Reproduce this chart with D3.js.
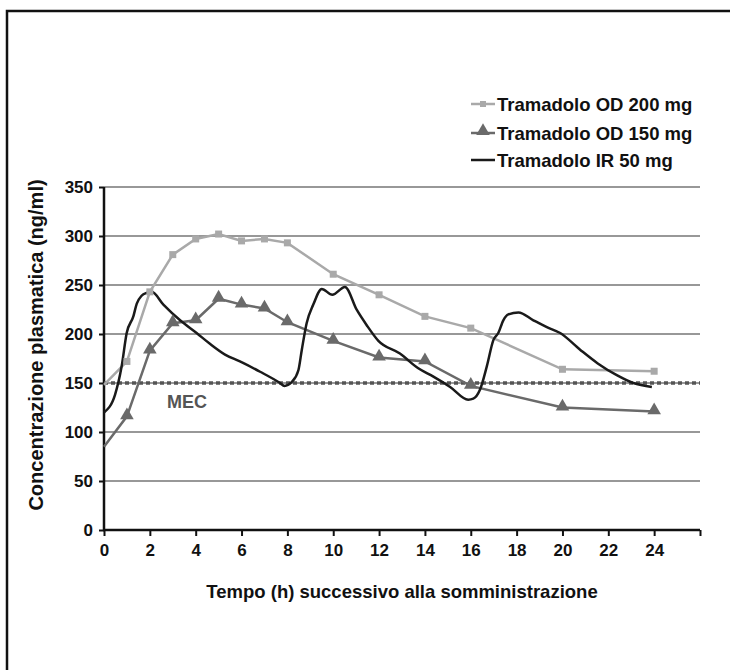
<!DOCTYPE html>
<html>
<head>
<meta charset="utf-8">
<script src="https://cdn.jsdelivr.net/npm/d3@7"></script>
<style>
  body { margin: 0; background: #fff; }
  svg text { font-family: "Liberation Sans", Arial, sans-serif; font-weight: bold; }
</style>
</head>
<body>
<svg width="730" height="670"></svg>
<script>
let svg = d3.select("svg");

// data
let hoursOD = [0, 1, 2, 3, 4, 5, 6, 7, 8, 10, 12, 14, 16, 20, 24];
let od200 = [148, 172, 243, 281, 297, 302, 295, 297, 293, 261, 240, 218, 206, 164, 162];
let od150 = [85, 116, 183, 211, 214, 236, 230, 226, 212, 193, 176, 172, 147, 125, 121];

let hoursIR = [0, 0.48, 0.77, 0.99, 1.28, 1.43, 1.64, 1.86, 2.08, 2.59, 3.32, 4.04, 4.62, 5.28, 5.93, 6.81,
  7.68, 7.87, 8.19, 8.48, 8.63, 8.84, 9.13, 9.5, 9.96, 10.51, 11.03, 11.46, 11.97, 12.91, 13.71,
  14.37, 15.1, 15.89, 16.11, 16.4, 16.7, 16.99, 17.2, 17.42, 17.64, 18.08, 18.73, 19.32, 19.9,
  20.77, 21.54, 22.37, 23.09, 23.9];
let ir50 = [120, 138, 167, 201, 218, 231, 239, 242, 243, 230, 214, 201, 190, 179, 172, 161.5,
  150, 147, 151, 163, 184, 211, 230, 246, 240, 248, 224.5, 209, 193, 180, 165,
  156.5, 146, 133, 134, 143, 167, 194, 201, 214, 220, 222, 214, 207, 201,
  184, 170, 158, 150, 146];

let mec = 150;
let xTicks = [0, 2, 4, 6, 8, 10, 12, 14, 16, 18, 20, 22, 24, 26];
let xLabels = ["0", "2", "4", "6", "8", "10", "12", "14", "16", "18", "20", "22", "24", ""];
let yTicks = [0, 50, 100, 150, 200, 250, 300, 350];
let seriesNames = ["Tramadolo OD 200 mg", "Tramadolo OD 150 mg", "Tramadolo IR 50 mg"];

let lightGray = "#a9a9a9";
let darkGray = "#6a6a6a";
let black = "#1a1a1a";

let x = d3.scaleLinear().domain([0, 26]).range([104, 700]);
let y = d3.scaleLinear().domain([0, 350]).range([530, 187]);

// frame (left + top)
svg.append("path")
  .attr("d", "M7,670 V11 H730")
  .attr("fill", "none")
  .attr("stroke", "#111")
  .attr("stroke-width", 2.5);

// gridlines
svg.append("g")
  .selectAll("line")
  .data(yTicks.filter(d => d > 0))
  .enter()
  .append("line")
  .attr("x1", x(0))
  .attr("x2", x(26))
  .attr("y1", d => y(d))
  .attr("y2", d => y(d))
  .attr("stroke", "#333")
  .attr("stroke-width", 1.2);

// axes
let yAxis = svg.append("g")
  .attr("transform", "translate(" + x(0) + ",0)")
  .call(d3.axisLeft(y).tickValues(yTicks).tickSize(5).tickPadding(6));
let xAxis = svg.append("g")
  .attr("transform", "translate(0," + y(0) + ")")
  .call(d3.axisBottom(x).tickValues(xTicks).tickSize(6).tickPadding(8)
    .tickFormat((d, i) => xLabels[i]));

[yAxis, xAxis].forEach(g => {
  g.select(".domain").attr("stroke", "#111").attr("stroke-width", 2.5);
  g.selectAll(".tick line").attr("stroke", "#111").attr("stroke-width", 2);
  g.selectAll(".tick text")
    .attr("fill", "#111")
    .style("font-family", "'Liberation Sans', Arial, sans-serif")
    .style("font-weight", "bold")
    .style("font-size", "17px");
});
yAxis.select(".domain").attr("d", "M0," + y(350) + "V" + (y(0) + 1));
xAxis.select(".domain").attr("d", "M" + (x(0) - 1) + ",0H" + x(26));

// MEC dotted line
svg.append("line")
  .attr("x1", x(0))
  .attr("x2", x(26))
  .attr("y1", y(mec))
  .attr("y2", y(mec))
  .attr("stroke", "#555")
  .attr("stroke-width", 3.5)
  .attr("stroke-dasharray", "4,3");

svg.append("text")
  .attr("x", 167)
  .attr("y", 408)
  .attr("fill", "#555")
  .style("font-size", "18px")
  .text("MEC");

// lines
let lineOD = d3.line().x(d => x(d[0])).y(d => y(d[1]));
let lineIR = d3.line().x(d => x(d[0])).y(d => y(d[1])).curve(d3.curveMonotoneX);

let pts200 = hoursOD.map((h, i) => [h, od200[i]]);
let pts150 = hoursOD.map((h, i) => [h, od150[i]]);
let ptsIR = hoursIR.map((h, i) => [h, ir50[i]]);

svg.append("path")
  .datum(pts150)
  .attr("d", lineOD)
  .attr("fill", "none")
  .attr("stroke", darkGray)
  .attr("stroke-width", 2.5);

svg.append("path")
  .datum(pts200)
  .attr("d", lineOD)
  .attr("fill", "none")
  .attr("stroke", lightGray)
  .attr("stroke-width", 2.5);

svg.append("path")
  .datum(ptsIR)
  .attr("d", lineIR)
  .attr("fill", "none")
  .attr("stroke", black)
  .attr("stroke-width", 2.5);

// markers
let tri = d3.symbol().type(d3.symbolTriangle).size(80);
svg.append("g")
  .selectAll("path")
  .data(pts150.filter(d => d[0] > 0))
  .enter()
  .append("path")
  .attr("d", tri)
  .attr("transform", d => "translate(" + x(d[0]) + "," + (y(d[1]) - 1) + ")")
  .attr("fill", darkGray);

svg.append("g")
  .selectAll("rect")
  .data(pts200.filter(d => d[0] > 0))
  .enter()
  .append("rect")
  .attr("x", d => x(d[0]) - 3.5)
  .attr("y", d => y(d[1]) - 3.5)
  .attr("width", 7)
  .attr("height", 7)
  .attr("fill", lightGray);

// legend
let legend = svg.append("g").attr("transform", "translate(471,0)");
let legendY = [104, 133, 160];
let legendColors = [lightGray, darkGray, black];
seriesNames.forEach((name, i) => {
  let g = legend.append("g").attr("transform", "translate(0," + legendY[i] + ")");
  g.append("line")
    .attr("x1", 0).attr("x2", 24)
    .attr("stroke", legendColors[i])
    .attr("stroke-width", 2.5);
  if (i == 0) {
    g.append("rect").attr("x", 9).attr("y", -3).attr("width", 6).attr("height", 6).attr("fill", lightGray);
  }
  if (i == 1) {
    g.append("path").attr("d", tri).attr("transform", "translate(12,-2)").attr("fill", darkGray);
  }
  g.append("text")
    .attr("x", 26)
    .attr("y", 6.5)
    .attr("fill", "#111")
    .style("font-size", "18.5px")
    .text(name);
});

// axis titles
svg.append("text")
  .attr("x", 402)
  .attr("y", 598)
  .attr("text-anchor", "middle")
  .attr("fill", "#111")
  .style("font-size", "18.5px")
  .text("Tempo (h) successivo alla somministrazione");

svg.append("text")
  .attr("transform", "translate(43,345) rotate(-90)")
  .attr("text-anchor", "middle")
  .attr("fill", "#111")
  .style("font-size", "20px")
  .text("Concentrazione plasmatica (ng/ml)");
</script>
</body>
</html>
